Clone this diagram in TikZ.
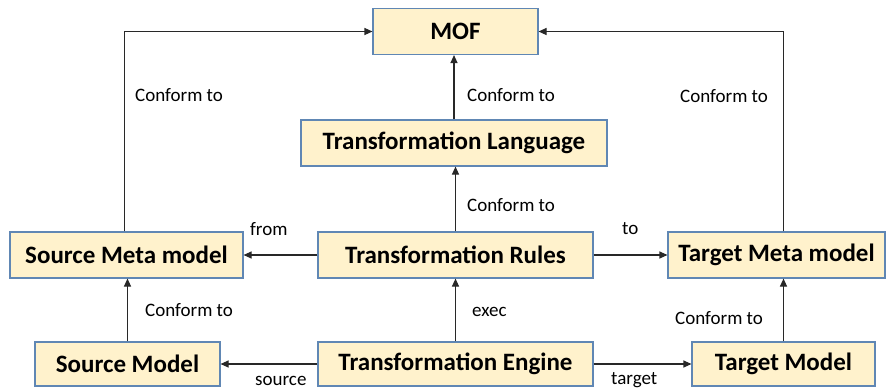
\documentclass[tikz,border=0pt]{standalone}
\usepackage{fontspec}
\setmainfont{Carlito}
\usepackage{tikz}
\usetikzlibrary{arrows.meta,positioning,calc}
\definecolor{boxfill}{RGB}{255,242,204}
\definecolor{boxline}{RGB}{96,135,180}
\definecolor{linkgray}{RGB}{40,40,40}

\begin{document}
\begin{tikzpicture}[
  x=1pt, y=-1pt,
  box/.style={draw=boxline, fill=boxfill, line width=1.1pt, align=center,
              font=\fontsize{25}{30}\selectfont\bfseries, minimum height=46pt,
              inner sep=0pt},
  arrow/.style={-{Triangle[length=8pt,width=7pt]}, line width=1.1pt, draw=linkgray},
  lbl/.style={font=\fontsize{19}{22}\selectfont, anchor=west, inner sep=0pt}
]
\useasboundingbox (0,0) rectangle (889,389);

\node[box, minimum width=165pt] (mof) at (455.5,31.5) {MOF};
\node[box, minimum width=306pt] (lang) at (454,143) {Transformation Language};

\node[box, minimum width=233pt] (smm) at (126.5,255) {Source Meta model};
\node[box, minimum width=275pt] (rules) at (455.5,255) {Transformation Rules};
\node[box, minimum width=217pt] (tmm) at (776.5,255) {Target Meta model};

\node[box, minimum width=185pt, minimum height=44pt] (sm) at (127.5,364) {Source Model};
\node[box, minimum width=275pt, minimum height=44pt] (engine) at (455.5,364) {Transformation Engine};
\node[box, minimum width=183pt, minimum height=44pt] (tm) at (783.5,364) {Target Model};

% conform to
\draw[arrow] ($(smm.north)+(-2,0)$) |- (mof.west);
\draw[arrow] (tmm.north -| tm.north) |- (mof.east);
\draw[arrow] (lang) -- (lang |- mof.south);
\draw[arrow] (rules) -- (rules |- lang.south);
\draw[arrow] (sm) -- (sm |- smm.south);
\draw[arrow] (tm) -- (tm |- tmm.south);

% rules and engine
\draw[arrow] (rules) -- (smm);
\draw[arrow] (rules) -- (tmm);
\draw[arrow] (engine) -- (engine |- rules.south);
\draw[arrow] (engine) -- (sm);
\draw[arrow] (engine) -- (tm);

\node[lbl] (c1) at (135,95) {Conform to};
\node[lbl] (c2) at (467,95) {Conform to};
\node[lbl] (c3) at (680,96) {Conform to};
\node[lbl] (c4) at (467,205) {Conform to};
\node[lbl] (c5) at (145,310) {Conform to};
\node[lbl] (c6) at (675,318) {Conform to};
\node[lbl] (from) at (250,229) {from};
\node[lbl] (to) at (622,229) {to};
\node[lbl] (exec) at (472,312) {exec};
\node[lbl] (src) at (255,381) {source};
\node[lbl] (tgt) at (611,380) {target};
\end{tikzpicture}
\end{document}
